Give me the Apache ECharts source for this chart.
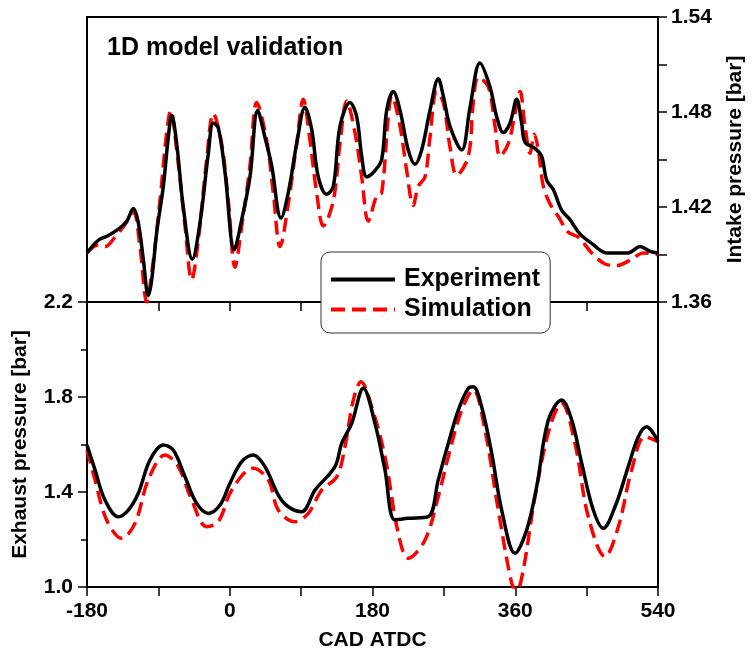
<!DOCTYPE html>
<html>
<head>
<meta charset="utf-8">
<script src="https://cdn.jsdelivr.net/npm/echarts@6/dist/echarts.min.js"></script>
<style>
html,body{margin:0;padding:0;background:#fff;}
#chart{width:754px;height:655px;}
</style>
</head>
<body>
<div id="chart"></div>
<script>
// ---- Data ----
const xTicks = [-180, 0, 180, 360, 540];
const intakeTicks = [1.36, 1.42, 1.48, 1.54];
const exhaustTicks = [1.0, 1.4, 1.8, 2.2];

// Intake pressure, Experiment
const intakeExpCad = [-180,-165.8,-153.1,-140.5,-129.9,-121.6,-115.3,-109.0,-102.7,-98.4,-92.1,-83.8,-77.5,-73.2,-66.9,-58.6,-47.2,-37.5,-27.0,-20.7,-14.4,-6.0,5.7,15.1,25.5,35.2,44.4,52.9,64.6,73.8,84.4,94.9,103.3,111.6,122.2,130.6,139.0,151.6,160.1,166.4,172.7,183.1,191.6,197.9,206.2,214.7,225.1,233.6,242.0,252.5,263.0,269.3,277.7,292.5,303.0,315.5,328.1,336.6,344.9,353.4,361.8,368.1,372.3,384.9,393.3,399.6,408.0,418.5,429.0,441.6,456.4,475.3,502.5,517.3,529.9,540];
const intakeExpP = [1.391,1.399,1.402,1.406,1.411,1.419,1.410,1.387,1.364,1.374,1.404,1.433,1.464,1.478,1.460,1.420,1.387,1.410,1.454,1.473,1.470,1.442,1.393,1.412,1.439,1.481,1.464,1.446,1.413,1.429,1.460,1.483,1.469,1.439,1.428,1.433,1.471,1.486,1.477,1.452,1.439,1.443,1.450,1.481,1.493,1.481,1.456,1.447,1.456,1.481,1.501,1.490,1.471,1.456,1.483,1.511,1.496,1.477,1.467,1.473,1.488,1.473,1.461,1.457,1.452,1.437,1.431,1.418,1.412,1.403,1.397,1.391,1.391,1.395,1.392,1.391];

// Intake pressure, Simulation
const intakeSimCad = [-180,-165.8,-157.3,-144.7,-132.1,-121.6,-113.2,-104.7,-98.4,-88.0,-79.5,-74.5,-66.9,-56.4,-48.0,-39.7,-29.1,-20.7,-10.2,-1.8,6.6,15.1,25.5,34.0,46.6,54.9,63.4,73.8,84.4,92.7,101.2,109.6,118.0,130.6,139.0,147.4,157.9,166.4,174.7,185.3,191.6,199.9,204.2,214.7,223.1,231.4,237.7,246.2,252.5,260.9,269.3,277.7,286.2,300.8,307.1,313.4,326.0,334.5,340.8,351.2,359.7,366.0,372.3,378.6,384.0,389.1,395.4,403.8,414.3,426.9,439.5,456.4,473.2,487.9,506.8,521.4,540];
const intakeSimP = [1.391,1.396,1.395,1.401,1.409,1.417,1.395,1.360,1.378,1.424,1.467,1.481,1.456,1.408,1.374,1.399,1.450,1.479,1.460,1.424,1.382,1.408,1.446,1.486,1.462,1.429,1.395,1.422,1.460,1.488,1.462,1.429,1.408,1.424,1.460,1.487,1.467,1.439,1.411,1.427,1.429,1.477,1.490,1.471,1.443,1.421,1.433,1.439,1.464,1.493,1.486,1.458,1.440,1.452,1.486,1.502,1.496,1.471,1.452,1.460,1.479,1.493,1.471,1.454,1.466,1.456,1.433,1.422,1.414,1.404,1.401,1.391,1.384,1.383,1.387,1.391,1.390];

// Exhaust pressure, Experiment
const exhaustExpCad = [-180,-169.9,-157.3,-140.5,-127.9,-115.3,-100.6,-83.8,-71.2,-56.4,-41.7,-27.0,-12.3,0.3,15.1,29.7,44.4,61.2,73.8,90.7,107.5,132.7,141.1,153.8,168.4,183.1,195.7,208.3,225.1,250.3,262.9,275.6,288.2,300.8,307.1,317.6,330.3,342.9,359.7,374.4,387.0,401.7,418.5,431.2,443.8,458.4,471.0,485.8,502.5,515.2,525.7,540];
const exhaustExpP = [1.598,1.493,1.366,1.296,1.324,1.395,1.535,1.598,1.577,1.464,1.352,1.310,1.345,1.437,1.528,1.556,1.507,1.387,1.338,1.317,1.408,1.507,1.605,1.689,1.837,1.689,1.493,1.282,1.289,1.296,1.451,1.605,1.745,1.837,1.843,1.759,1.563,1.324,1.142,1.240,1.422,1.703,1.787,1.703,1.521,1.324,1.247,1.338,1.507,1.633,1.675,1.612];

// Exhaust pressure, Simulation
const exhaustSimCad = [-180,-169.9,-155.2,-136.2,-119.5,-102.7,-81.6,-64.9,-47.9,-29.1,-14.4,2.5,29.7,48.6,61.2,82.3,99.0,115.9,134.9,145.3,155.8,165.5,179.0,195.7,212.5,225.1,246.2,262.9,275.6,292.5,307.1,321.8,338.6,355.5,361.8,370.1,384.9,403.8,418.5,435.3,452.1,473.2,490.0,506.8,523.6,540];
const exhaustSimP = [1.577,1.451,1.282,1.205,1.268,1.451,1.556,1.507,1.366,1.254,1.275,1.408,1.500,1.451,1.324,1.275,1.310,1.408,1.464,1.591,1.787,1.864,1.759,1.549,1.226,1.121,1.198,1.380,1.549,1.745,1.830,1.661,1.324,1.016,0.983,1.072,1.380,1.675,1.774,1.605,1.296,1.128,1.254,1.493,1.633,1.612];

const seriesNames = ['Experiment', 'Simulation'];
const titleText = '1D model validation';

function zip(a, b) { return a.map((v, i) => [v, b[i]]); }

const FONT = '"Liberation Sans", Arial, sans-serif';
const axisLineStyle = { color: '#000', width: 2 };
const labelStyle = { color: '#000', fontFamily: FONT, fontWeight: 'bold', fontSize: 21 };
const nameStyle = { color: '#000', fontFamily: FONT, fontWeight: 'bold', fontSize: 21 };
const tickStyle = { color: '#000', width: 1.5 };

const chart = echarts.init(document.getElementById('chart'), null, { renderer: 'canvas' });
chart.setOption({
  backgroundColor: '#fff',
  animation: false,
  title: {
    text: titleText, left: 107, top: 36, padding: 0,
    textStyle: { color: '#000', fontFamily: FONT, fontWeight: 'bold', fontSize: 25 }
  },
  legend: {
    data: seriesNames,
    orient: 'vertical',
    left: 321, top: 252,
    padding: [15, 10, 11, 8],
    itemGap: 5,
    itemWidth: 64, itemHeight: 16,
    backgroundColor: '#fff',
    borderColor: '#333', borderWidth: 1, borderRadius: 9,
    itemStyle: { opacity: 0, borderWidth: 0 },
    lineStyle: { width: 4 },
    textStyle: { color: '#000', fontFamily: FONT, fontWeight: 'bold', fontSize: 25, padding: [0, 0, 0, 4] }
  },
  grid: [
    { left: 87, right: 96, top: 17, height: 285, show: true, borderColor: '#000', borderWidth: 2, backgroundColor: 'transparent' },
    { left: 87, right: 96, top: 302, height: 285, show: true, borderColor: '#000', borderWidth: 2, backgroundColor: 'transparent' }
  ],
  xAxis: [
    {
      gridIndex: 0, type: 'value', min: xTicks[0], max: xTicks[xTicks.length - 1], interval: 90,
      axisLine: { show: true, onZero: false, lineStyle: axisLineStyle },
      axisTick: { show: true, length: 9, lineStyle: tickStyle },
      axisLabel: { show: false }, splitLine: { show: false }
    },
    {
      gridIndex: 1, type: 'value', min: xTicks[0], max: xTicks[xTicks.length - 1], interval: 180,
      name: 'CAD ATDC', nameLocation: 'middle', nameGap: 43, nameTextStyle: nameStyle,
      axisLine: { show: true, onZero: false, lineStyle: axisLineStyle },
      axisTick: { show: true, length: 9, lineStyle: tickStyle },
      minorTick: { show: true, splitNumber: 2, length: 9, lineStyle: tickStyle },
      axisLabel: { ...labelStyle, margin: 14, formatter: v => String(v) },
      splitLine: { show: false }
    }
  ],
  yAxis: [
    {
      gridIndex: 0, type: 'value', position: 'right',
      min: intakeTicks[0], max: intakeTicks[intakeTicks.length - 1], interval: 0.06,
      name: 'Intake pressure [bar]', nameLocation: 'middle', nameGap: 67, nameRotate: 90, nameTextStyle: nameStyle,
      axisLine: { show: true, onZero: false, lineStyle: axisLineStyle },
      axisTick: { show: true, length: 9, lineStyle: tickStyle },
      minorTick: { show: true, splitNumber: 2, length: 9, lineStyle: tickStyle },
      axisLabel: { ...labelStyle, margin: 13, formatter: v => v.toFixed(2) },
      splitLine: { show: false }
    },
    {
      gridIndex: 1, type: 'value', position: 'left',
      min: exhaustTicks[0], max: exhaustTicks[exhaustTicks.length - 1], interval: 0.4,
      name: 'Exhaust pressure [bar]', nameLocation: 'middle', nameGap: 56, nameTextStyle: nameStyle,
      axisLine: { show: true, onZero: false, lineStyle: axisLineStyle },
      axisTick: { show: true, length: 9, lineStyle: tickStyle },
      minorTick: { show: true, splitNumber: 2, length: 6, lineStyle: tickStyle },
      axisLabel: { ...labelStyle, margin: 14, formatter: v => v.toFixed(1) },
      splitLine: { show: false }
    }
  ],
  series: [
    {
      name: 'Simulation', type: 'line', xAxisIndex: 0, yAxisIndex: 0,
      data: zip(intakeSimCad, intakeSimP), smooth: 0.35, symbol: 'none', clip: true, z: 2,
      lineStyle: { color: '#ff0000', width: 3.5, type: [14, 7] }, itemStyle: { color: '#ff0000' }
    },
    {
      name: 'Experiment', type: 'line', xAxisIndex: 0, yAxisIndex: 0,
      data: zip(intakeExpCad, intakeExpP), smooth: 0.35, symbol: 'none', clip: true, z: 3,
      lineStyle: { color: '#000', width: 3.5 }, itemStyle: { color: '#000' }
    },
    {
      name: 'Simulation', type: 'line', xAxisIndex: 1, yAxisIndex: 1,
      data: zip(exhaustSimCad, exhaustSimP), smooth: 0.35, symbol: 'none', clip: true, z: 2,
      lineStyle: { color: '#ff0000', width: 3.5, type: [14, 7] }, itemStyle: { color: '#ff0000' }
    },
    {
      name: 'Experiment', type: 'line', xAxisIndex: 1, yAxisIndex: 1,
      data: zip(exhaustExpCad, exhaustExpP), smooth: 0.35, symbol: 'none', clip: true, z: 3,
      lineStyle: { color: '#000', width: 3.5 }, itemStyle: { color: '#000' }
    }
  ]
});
</script>
</body>
</html>
